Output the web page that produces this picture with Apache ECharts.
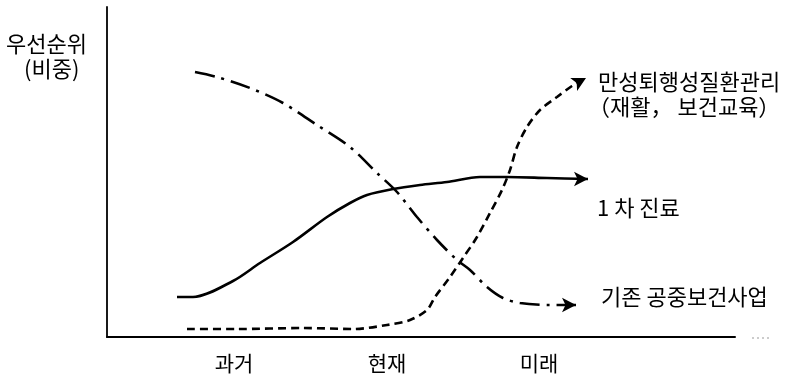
<!DOCTYPE html>
<html>
<head>
<meta charset="utf-8">
<script src="https://cdn.jsdelivr.net/npm/echarts@6/dist/echarts.min.js"></script>
<style>
  html, body { margin: 0; padding: 0; background: #fff; }
  #chart { width: 790px; height: 378px; }
</style>
</head>
<body>
<div id="chart"></div>
<script>
  // x / y are in plot units (1 unit ~ 1 px of the original drawing)
  var periodValues = [127, 280, 432];
  var periodLabels = ['과거', '현재', '미래'];

  var seriesNames = ['1 차 진료', '기존 공중보건사업', '만성퇴행성질환관리'];

  var primaryCare = [
    [70, 40], [86, 40], [126, 56], [153, 74], [186, 95], [220, 120],
    [243, 134], [260, 142], [286, 148], [313, 152], [340, 155], [373, 160],
    [400, 160], [440, 159], [481, 158]
  ];
  var publicHealth = [
    [88, 265], [110, 260], [143, 249], [176, 234], [210, 212], [243, 190],
    [270, 164], [290, 145], [310, 120], [330, 97], [350, 77], [363, 67],
    [380, 50], [396, 39], [413, 34], [443, 32], [469, 32]
  ];
  var chronicCare = [
    [80, 8], [130, 8], [196, 9], [246, 8], [280, 12], [303, 17], [320, 27],
    [328, 40], [343, 60], [356, 79], [370, 100], [383, 124], [395, 147],
    [403, 167], [410, 190], [420, 210], [433, 227], [450, 240], [465, 251],
    [479, 259]
  ];

  var chart = echarts.init(document.getElementById('chart'), null, { renderer: 'canvas' });

  var font = '"Noto Sans CJK KR", "Noto Sans", sans-serif';

  // put an arrow head on the last point of each line
  function withArrow(points, rotate) {
    return points.map(function (p, i) {
      if (i < points.length - 1) return { value: p, symbol: 'none' };
      return { value: p, symbol: 'arrow', symbolSize: [11, 14], symbolRotate: rotate };
    });
  }

  function lineSeries(name, points, dash, rotate) {
    return {
      name: name,
      type: 'line',
      smooth: 0.3,
      showSymbol: true,
      data: withArrow(points, rotate),
      lineStyle: { color: '#000', width: 2.6, type: dash, cap: 'butt' },
      itemStyle: { color: '#000', borderWidth: 0 },
      emphasis: { disabled: true },
      silent: true
    };
  }

  function label(text, left, top) {
    return {
      type: 'text', left: left, top: top,
      style: { text: text, font: '22px ' + font, fill: '#000' }
    };
  }

  var option = {
    animation: false,
    backgroundColor: '#fff',
    grid: { left: 107, right: 55, top: 7, bottom: 41 },
    xAxis: {
      type: 'value',
      min: 0,
      max: 628,
      splitLine: { show: false },
      axisTick: { show: false },
      axisLine: { show: true, lineStyle: { color: '#000', width: 2 } },
      axisLabel: {
        customValues: periodValues,
        margin: 16,
        fontFamily: font,
        fontSize: 21,
        color: '#000',
        formatter: function (v) {
          var i = periodValues.indexOf(v);
          return i >= 0 ? periodLabels[i] : '';
        }
      }
    },
    yAxis: {
      type: 'value',
      min: 0,
      max: 330,
      splitLine: { show: false },
      axisTick: { show: false },
      axisLabel: { show: false },
      axisLine: { show: true, lineStyle: { color: '#000', width: 1.8 } }
    },
    series: [
      lineSeries(seriesNames[0], primaryCare, 'solid', -90),
      lineSeries(seriesNames[1], publicHealth, [20, 7, 3, 7], -90),
      lineSeries(seriesNames[2], chronicCare, [8, 5], -62)
    ],
    graphic: [
      label('우선순위', 6, 33),
      label('(비중)', 24, 58),
      label(seriesNames[2], 598, 71),
      label('（재활， 보건교육）', 588, 96),
      label(seriesNames[0], 597, 197),
      label(seriesNames[1], 601, 286),
      {
        type: 'line',
        shape: { x1: 752, y1: 338, x2: 772, y2: 338 },
        style: { stroke: '#999', lineWidth: 1, lineDash: [2, 3] }
      }
    ]
  };

  chart.setOption(option);
  window.addEventListener('resize', chart.resize);
</script>
</body>
</html>
